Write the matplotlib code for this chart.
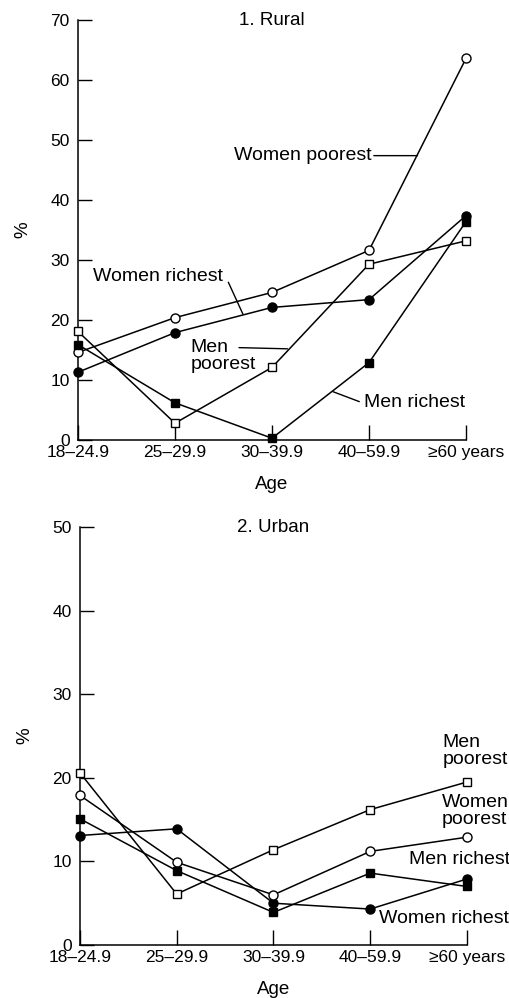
import matplotlib
matplotlib.use("Agg")
import matplotlib.pyplot as plt

plt.rcParams['font.family'] = ['Liberation Sans', 'DejaVu Sans']

# 年龄组
age_groups = ['18\u201324.9', '25\u201329.9', '30\u201339.9', '40\u201359.9', '\u226560 years']

# 1. Rural (%)
rural_women_poorest = [14.6, 20.4, 24.6, 31.6, 63.6]
rural_women_richest = [11.3, 17.9, 22.1, 23.4, 37.4]
rural_men_poorest = [18.1, 2.8, 12.1, 29.3, 33.2]
rural_men_richest = [15.9, 6.2, 0.3, 12.9, 36.4]

# 2. Urban (%)
urban_women_poorest = [17.9, 9.9, 6.0, 11.2, 12.9]
urban_women_richest = [13.1, 13.9, 5.0, 4.3, 7.9]
urban_men_poorest = [20.6, 6.1, 11.4, 16.2, 19.5]
urban_men_richest = [15.1, 8.9, 3.9, 8.6, 7.0]

styles = {
    'women_poorest': dict(marker='o', mfc='white', ms=6.5),
    'women_richest': dict(marker='o', mfc='black', ms=6.5),
    'men_poorest': dict(marker='s', mfc='white', ms=6),
    'men_richest': dict(marker='s', mfc='black', ms=6),
}
FS = 14


def draw_panel(ax, series, ymax, title):
    x = list(range(len(age_groups)))
    for key, vals in series:
        ax.plot(x, vals, color='black', lw=1.1, mec='black', mew=1.0,
                clip_on=False, zorder=3, **styles[key])
    ax.set_xlim(0, len(age_groups) - 1)
    ax.set_ylim(0, ymax)
    ax.set_xticks(x)
    ax.set_xticklabels(age_groups)
    ax.set_yticks(range(0, ymax + 1, 10))
    ax.spines['top'].set_visible(False)
    ax.spines['right'].set_visible(False)
    ax.spines['left'].set_linewidth(1.1)
    ax.spines['bottom'].set_linewidth(1.1)
    ax.tick_params(axis='x', direction='in', length=11, width=1.0, pad=3.5, labelsize=12.5)
    ax.tick_params(axis='y', direction='in', length=10, width=1.0, pad=6, labelsize=12.5)
    ax.text(0.5, 1.0, title, transform=ax.transAxes, ha='center', va='center', fontsize=13.5)
    ax.set_xlabel('Age', fontsize=13.5)
    ax.xaxis.set_label_coords(0.5, -0.085)
    ax.set_ylabel('%', fontsize=13.5)
    ax.yaxis.set_label_coords(-0.12, 0.5)


def leader(ax, start, end):
    ax.annotate('', xy=end, xytext=start,
                arrowprops=dict(arrowstyle='-', lw=1.0, shrinkA=0, shrinkB=0))


fig = plt.figure(figsize=(5.09, 9.98), dpi=100)

# 农村
ax1 = fig.add_axes([0.1532, 0.5591, 0.7623, 0.4208])
draw_panel(ax1, [('women_richest', rural_women_richest),
                 ('women_poorest', rural_women_poorest),
                 ('men_poorest', rural_men_poorest),
                 ('men_richest', rural_men_richest)], 70, '1. Rural')

ax1.text(3.03, 47.4, 'Women poorest', ha='right', va='center', fontsize=FS)
leader(ax1, (3.05, 47.4), (3.50, 47.4))
ax1.text(1.49, 27.2, 'Women richest', ha='right', va='center', fontsize=FS)
leader(ax1, (1.55, 26.3), (1.70, 21.0))
ax1.text(1.16, 14.0, 'Men\npoorest', ha='left', va='center', fontsize=FS,
         linespacing=0.98, multialignment='left')
leader(ax1, (1.66, 15.4), (2.16, 15.2))
ax1.text(2.95, 6.2, 'Men richest', ha='left', va='center', fontsize=FS)
leader(ax1, (2.90, 6.4), (2.63, 8.05))

# 城市
ax2 = fig.add_axes([0.157, 0.0531, 0.7605, 0.4188])
draw_panel(ax2, [('women_richest', urban_women_richest),
                 ('women_poorest', urban_women_poorest),
                 ('men_poorest', urban_men_poorest),
                 ('men_richest', urban_men_richest)], 50, '2. Urban')

ax2.text(3.75, 23.2, 'Men\npoorest', ha='left', va='center', fontsize=FS, linespacing=0.98)
ax2.text(3.74, 16.0, 'Women\npoorest', ha='left', va='center', fontsize=FS, linespacing=0.98)
ax2.text(3.40, 10.2, 'Men richest', ha='left', va='center', fontsize=FS)
ax2.text(3.09, 3.2, 'Women richest', ha='left', va='center', fontsize=FS)

plt.savefig('out.png', dpi=100)
